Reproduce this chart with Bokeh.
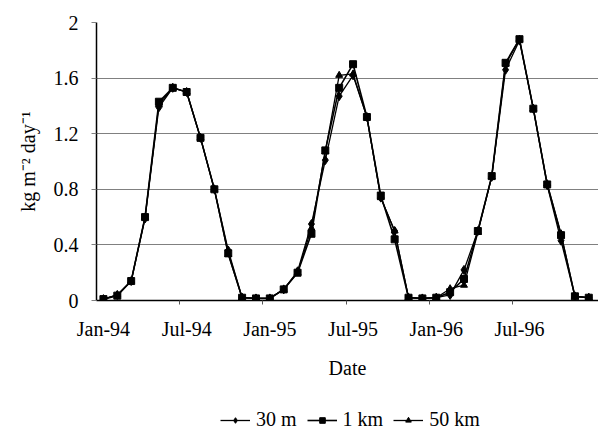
from bokeh.plotting import figure
from bokeh.layouts import column
from bokeh.models import (ColumnDataSource, FixedTicker, Legend, LegendItem,
                          Range1d)
from bokeh.embed import file_html
from bokeh.resources import INLINE

# ---- data -------------------------------------------------------------
month_index = list(range(36))          # Jan-94 ... Dec-96
tick_positions = [0, 6, 12, 18, 24, 30]
tick_labels = ["Jan-94", "Jul-94", "Jan-95", "Jul-95", "Jan-96", "Jul-96"]
boundary_ticks = [5.5, 11.5, 17.5, 23.5, 29.5]

s_30m = [0.01, 0.04, 0.14, 0.59, 1.39, 1.53, 1.50, 1.17, 0.80, 0.36, 0.02, 0.015,
         0.015, 0.08, 0.21, 0.55, 1.01, 1.47, 1.62, 1.32, 0.74, 0.50, 0.02, 0.015,
         0.02, 0.04, 0.22, 0.50, 0.89, 1.66, 1.87, 1.38, 0.83, 0.43, 0.03, 0.02]
s_1km = [0.01, 0.035, 0.14, 0.60, 1.43, 1.53, 1.50, 1.17, 0.80, 0.34, 0.02, 0.015,
         0.015, 0.08, 0.20, 0.48, 1.08, 1.53, 1.70, 1.32, 0.755, 0.44, 0.02, 0.015,
         0.02, 0.06, 0.155, 0.50, 0.895, 1.71, 1.88, 1.38, 0.835, 0.47, 0.03, 0.02]
s_50km = [0.01, 0.04, 0.14, 0.60, 1.41, 1.53, 1.50, 1.17, 0.80, 0.33, 0.02, 0.015,
          0.015, 0.08, 0.20, 0.52, 1.07, 1.62, 1.63, 1.32, 0.74, 0.50, 0.02, 0.015,
          0.02, 0.085, 0.11, 0.49, 0.89, 1.70, 1.88, 1.38, 0.84, 0.48, 0.03, 0.02]

y_ticks = [0, 0.4, 0.8, 1.2, 1.6, 2]
series_labels = ["30 m", "1 km", "50 km"]

source = ColumnDataSource(dict(x=month_index, a=s_30m, b=s_1km, c=s_50km))

FONT = "Liberation Serif"
FS = "20px"

p = figure(width=598, height=392, output_backend="svg", toolbar_location=None,
           x_range=Range1d(-0.5, 35.7), y_range=Range1d(0, 2),
           min_border_left=96, min_border_right=0, min_border_top=22,
           min_border_bottom=92)
p.outline_line_color = None
p.background_fill_color = "white"
p.border_fill_color = "white"

# grid
p.xgrid.grid_line_color = None
p.ygrid.grid_line_color = "#808080"
p.ygrid.grid_line_width = 1
p.ygrid.ticker = FixedTicker(ticks=y_ticks)

# axes
p.yaxis.ticker = FixedTicker(ticks=y_ticks)
p.yaxis.major_label_overrides = {0: "0", 0.4: "0.4", 0.8: "0.8", 1.2: "1.2", 1.6: "1.6", 2: "2"}
p.yaxis.minor_tick_line_color = None
p.yaxis.major_tick_in = 0
p.yaxis.major_tick_out = 5
p.yaxis.major_tick_line_color = "#808080"
p.yaxis.axis_line_color = "black"
p.yaxis.axis_line_width = 1.5
p.yaxis.major_label_text_font = FONT
p.yaxis.major_label_text_font_size = FS
p.yaxis.major_label_text_color = "black"
p.yaxis.major_label_standoff = 13
p.yaxis.axis_label = "kg m\u207b\u00b2 day\u207b\u00b9"
p.yaxis.axis_label_text_font = FONT
p.yaxis.axis_label_text_font_size = FS
p.yaxis.axis_label_text_font_style = "normal"
p.yaxis.axis_label_text_color = "black"
p.yaxis.axis_label_standoff = 12

p.xaxis.ticker = FixedTicker(ticks=tick_positions, minor_ticks=boundary_ticks)
p.xaxis.major_label_overrides = dict(zip(tick_positions, tick_labels))
p.xaxis.major_tick_line_color = None
p.xaxis.major_tick_in = 0
p.xaxis.major_tick_out = 4
p.xaxis.minor_tick_in = 0
p.xaxis.minor_tick_out = 4
p.xaxis.minor_tick_line_color = "#555555"
p.xaxis.axis_line_color = "black"
p.xaxis.axis_line_width = 1.5
p.xaxis.major_label_text_font = FONT
p.xaxis.major_label_text_font_size = FS
p.xaxis.major_label_text_color = "black"
p.xaxis.major_label_standoff = 13
p.xaxis.axis_label = "Date"
p.xaxis.axis_label_text_font = FONT
p.xaxis.axis_label_text_font_size = FS
p.xaxis.axis_label_text_font_style = "normal"
p.xaxis.axis_label_text_color = "black"
p.xaxis.axis_label_standoff = 14


def draw_series(fig):
    l30 = fig.line("x", "a", source=source, color="black", line_width=1.3)
    m30 = fig.scatter("x", "a", source=source, marker="diamond", size=9, color="black")
    l50 = fig.line("x", "c", source=source, color="black", line_width=1.3)
    m50 = fig.scatter("x", "c", source=source, marker="triangle", size=7, color="black")
    l1 = fig.line("x", "b", source=source, color="black", line_width=1.6)
    m1 = fig.scatter("x", "b", source=source, marker="square", size=7, color="black")
    return [[l30, m30], [l1, m1], [l50, m50]]


draw_series(p)

# ---- legend strip below the chart (same series, data kept out of view) ----
q = figure(width=598, height=40, output_backend="svg", toolbar_location=None,
           x_range=Range1d(1000, 1001), y_range=Range1d(1000, 1001),
           min_border_left=0, min_border_right=0, min_border_top=0,
           min_border_bottom=0)
q.axis.visible = False
q.grid.visible = False
q.outline_line_color = None
q.background_fill_color = "white"
q.border_fill_color = "white"
legend_renderers = draw_series(q)

legend = Legend(items=[LegendItem(label=lab, renderers=r)
                       for lab, r in zip(series_labels, legend_renderers)],
                orientation="horizontal", location=(124, 1),
                label_text_font=FONT, label_text_font_size=FS,
                label_text_color="black", glyph_width=30, glyph_height=14,
                label_standoff=6, spacing=10, padding=0, margin=0,
                border_line_color=None, background_fill_alpha=0)
q.add_layout(legend, "center")

layout = column(p, q, spacing=0)
open("out.html", "w").write(file_html(layout, INLINE))
